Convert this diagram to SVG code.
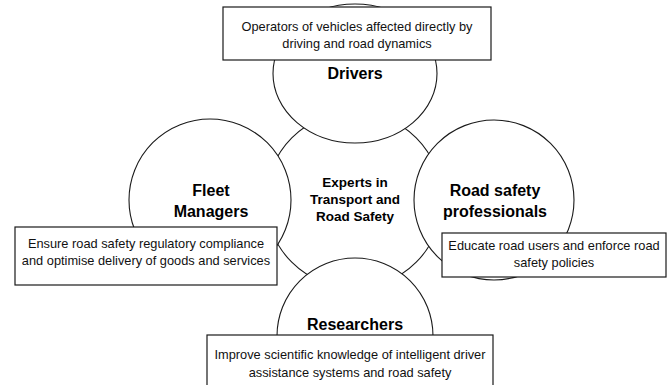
<svg xmlns="http://www.w3.org/2000/svg" width="668" height="385" viewBox="0 0 668 385">
<style>
.shape{fill:#fff;stroke:#1a1a1a;stroke-width:1.1}
.box{fill:#fff;stroke:#1a1a1a;stroke-width:1.2}
.title{font-family:"Liberation Sans",Arial,sans-serif;font-weight:bold;font-size:16px;fill:#000;text-anchor:middle}
.center{font-family:"Liberation Sans",Arial,sans-serif;font-weight:bold;font-size:13.5px;fill:#000;text-anchor:middle}
.desc{font-family:"Liberation Sans",Arial,sans-serif;font-size:12.8px;fill:#111;text-anchor:middle}
</style>
<rect width="668" height="385" fill="#fff"/>
<g id="experts">
<circle class="shape" cx="354" cy="200" r="88"/>
<text class="center" x="355" y="187">Experts in</text>
<text class="center" x="355" y="204">Transport and</text>
<text class="center" x="355" y="221">Road Safety</text>
</g>
<g id="drivers">
<ellipse class="shape" cx="355" cy="73.5" rx="82" ry="69.5"/>
<text class="title" x="355" y="79">Drivers</text>
</g>
<g id="fleet-managers">
<circle class="shape" cx="210" cy="200" r="81"/>
<text class="title" x="211" y="196">Fleet</text>
<text class="title" x="211" y="217">Managers</text>
</g>
<g id="road-safety-professionals">
<circle class="shape" cx="494" cy="200" r="80"/>
<text class="title" x="495" y="196">Road safety</text>
<text class="title" x="495" y="217">professionals</text>
</g>
<g id="researchers">
<circle class="shape" cx="355" cy="336" r="78"/>
<text class="title" x="355" y="330">Researchers</text>
</g>
<g id="drivers-desc">
<rect class="box" x="223" y="7" width="268" height="53"/>
<text class="desc" x="357" y="31">Operators of vehicles affected directly by</text>
<text class="desc" x="357" y="48">driving and road dynamics</text>
</g>
<g id="fleet-desc">
<rect class="box" x="15" y="227" width="262" height="58"/>
<text class="desc" x="146" y="248">Ensure road safety regulatory compliance</text>
<text class="desc" x="146" y="265">and optimise delivery of goods and services</text>
</g>
<g id="rsp-desc">
<rect class="box" x="442" y="233" width="224" height="44"/>
<text class="desc" x="554" y="250">Educate road users and enforce road</text>
<text class="desc" x="554" y="267">safety policies</text>
</g>
<g id="researchers-desc">
<rect class="box" x="207" y="335" width="286" height="60"/>
<text class="desc" x="350" y="359">Improve scientific knowledge of intelligent driver</text>
<text class="desc" x="350" y="377">assistance systems and road safety</text>
</g>
<g id="connectors"></g>
</svg>
